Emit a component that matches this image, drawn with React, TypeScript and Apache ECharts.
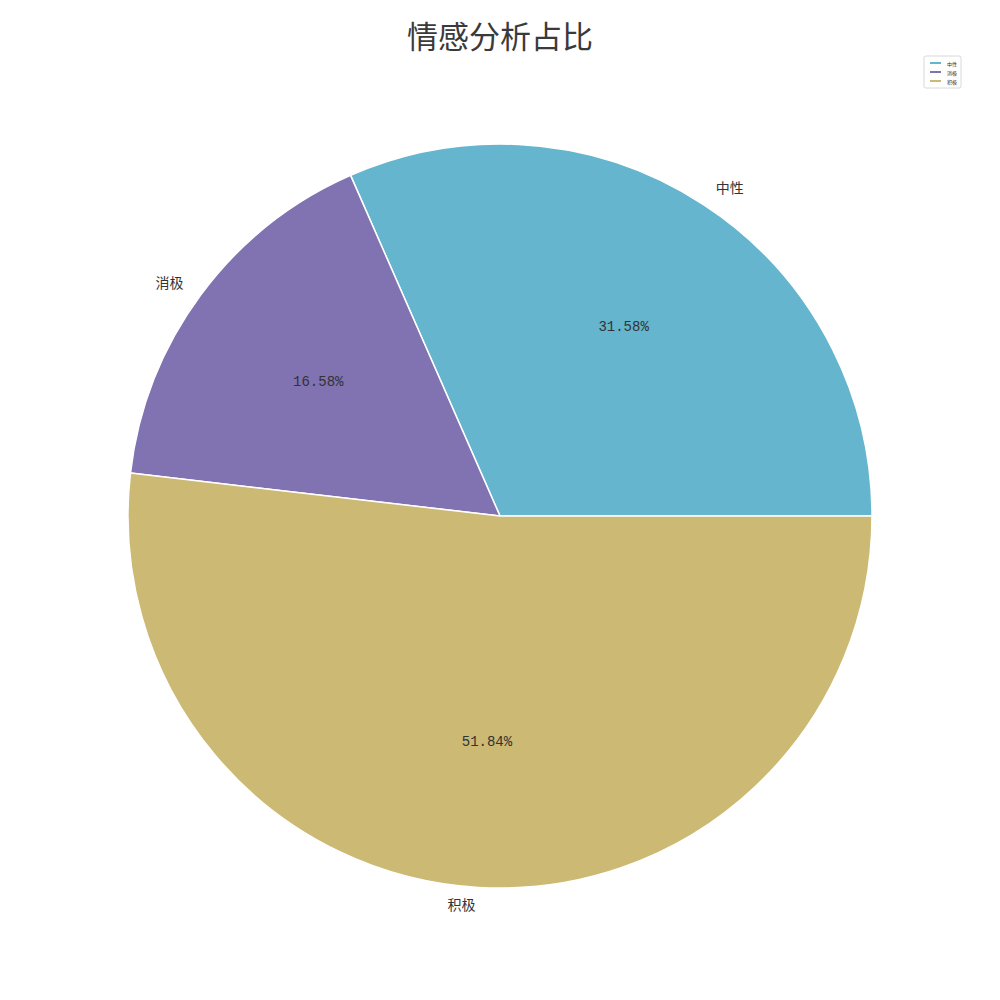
import { useEffect, useRef } from 'react'
import * as echarts from 'echarts'

// 数据
const categories = ['中性', '消极', '积极']
const shares = [31.58, 16.58, 51.84]
const sliceColors = ['#64B5CD', '#8172B2', '#CCB974']

const labelFont = "'Liberation Mono', 'Noto Sans CJK SC', monospace"

export default function App() {
  const chartRef = useRef<HTMLDivElement>(null)

  useEffect(() => {
    if (!chartRef.current) return
    const chart = echarts.init(chartRef.current, null, { renderer: 'svg' })

    const pieData = categories.map((name, i) => ({
      name,
      value: shares[i],
      itemStyle: { color: sliceColors[i] },
    }))

    const option: echarts.EChartsOption = {
      animation: false,
      backgroundColor: '#ffffff',
      title: {
        text: '情感分析占比',
        left: 'center',
        top: 14,
        textStyle: {
          fontFamily: "'Noto Sans CJK SC', sans-serif",
          fontSize: 31,
          fontWeight: 'normal',
          color: '#3a3a3a',
        },
      },
      legend: {
        data: categories,
        orient: 'vertical',
        right: 39,
        top: 56,
        icon: 'rect',
        itemWidth: 13,
        itemHeight: 4,
        itemGap: 3,
        padding: [4, 4, 4, 4],
        borderColor: '#d8d8d8',
        borderWidth: 1,
        borderRadius: 2,
        textStyle: { fontSize: 5, color: '#333', fontFamily: "'Noto Sans CJK SC'" },
        selectedMode: false,
      },
      series: [
        // 扇区 + 外侧名称
        {
          type: 'pie',
          center: [500, 516],
          radius: [0, 372],
          startAngle: 0,
          clockwise: false,
          avoidLabelOverlap: false,
          itemStyle: { borderColor: '#ffffff', borderWidth: 1.5 },
          label: {
            show: true,
            position: 'outside',
            formatter: '{b}',
            fontFamily: labelFont,
            fontSize: 14,
            color: '#333333',
            distanceToLabelLine: 2,
          },
          labelLine: { show: false, length: 19, length2: 0 },
          emphasis: { disabled: true },
          data: pieData,
        },
        // 百分比（透明层，标签位于 0.6r）
        {
          type: 'pie',
          center: [500, 516],
          radius: [0, 446],
          startAngle: 0,
          clockwise: false,
          silent: true,
          avoidLabelOverlap: false,
          itemStyle: { color: 'transparent', borderWidth: 0 },
          label: {
            show: true,
            position: 'inside',
            formatter: (p: any) => `${Number(p.value).toFixed(2)}%`,
            fontFamily: labelFont,
            fontSize: 14,
            color: '#333333',
          },
          labelLine: { show: false },
          emphasis: { disabled: true },
          data: categories.map((name, i) => ({ name, value: shares[i] })),
        },
      ],
    }

    chart.setOption(option)
    return () => chart.dispose()
  }, [])

  return (
    <div
      ref={chartRef}
      style={{ position: 'absolute', left: 0, top: 0, width: 1000, height: 1000 }}
    />
  )
}
